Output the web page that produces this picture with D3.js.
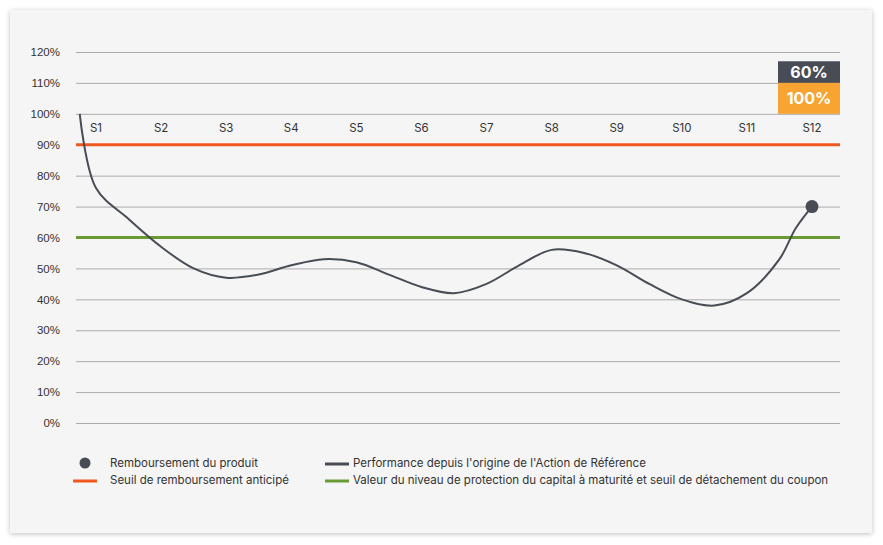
<!DOCTYPE html>
<html lang="fr">
<head>
<meta charset="UTF-8">
<script src="https://cdn.jsdelivr.net/npm/d3@7"></script>
<style>
  body { margin: 0; background: #fff; font-family: Inter, "Noto Sans", sans-serif; }
  .card { position: absolute; left: 10px; top: 10px; width: 862px; height: 523px; background: #f5f5f5; box-shadow: 0 1px 5px rgba(0,0,0,.25); }
  svg { position: absolute; left: 0; top: 0; }
  .tick text { font-size: 11.5px; fill: #333; }
</style>
</head>
<body>
<div class="card"></div>
<script>
const yTicks = [0, 10, 20, 30, 40, 50, 60, 70, 80, 90, 100, 110, 120];
const sessions = ["S1","S2","S3","S4","S5","S6","S7","S8","S9","S10","S11","S12"];
// performance path: position in sessions (1 = S1) and level in %
const perfT = [0.75, 1.0, 1.5, 2.0, 2.5, 3.0, 3.5, 4.0, 4.5, 5.0, 5.5, 6.0, 6.5, 7.0, 7.5, 8.0, 8.5, 9.0, 9.5, 10.0, 10.5, 11.0, 11.5, 11.75, 12.0];
const perfV = [100, 76, 66, 57, 50, 47, 48, 51, 53, 52, 48, 44, 42, 45, 51, 56, 55, 51, 45, 40, 38, 42, 53, 63, 70];
const redeemT = 12, redeemV = 70;
const earlyThreshold = 90, protectionLevel = 60;
const boxTop = "60%", boxBottom = "100%";
const legendItems = [
  {label: "Remboursement du produit", type: "dot", color: "#474c55"},
  {label: "Performance depuis l'origine de l'Action de Référence", type: "line", color: "#474c55"},
  {label: "Seuil de remboursement anticipé", type: "line", color: "#f0581f"},
  {label: "Valeur du niveau de protection du capital à maturité et seuil de détachement du coupon", type: "line", color: "#6a9a34"}
];

const W = 883, H = 545;
const pLeft = 76, pRight = 840, pTop = 52, pBottom = 423;
const svg = d3.select("body").append("svg").attr("width", W).attr("height", H);

const y = d3.scaleLinear().domain([0, 120]).range([pBottom, pTop]);
const x = d3.scaleLinear().domain([1, 12]).range([96, 812]);

const yAxis = d3.axisLeft(y).tickValues(yTicks).tickFormat(d => d + "%").tickSize(-(pRight - pLeft)).tickPadding(16);
const gy = svg.append("g").attr("transform", `translate(${pLeft},0)`).call(yAxis);
gy.select(".domain").remove();
gy.selectAll(".tick line").attr("stroke", "#999").attr("stroke-width", 0.8);

// session labels
svg.append("g").selectAll("text").data(sessions).join("text")
  .attr("x", (d, i) => x(i + 1)).attr("y", 132).attr("text-anchor", "middle")
  .attr("font-size", 11.5).attr("fill", "#333").text(d => d);

// thresholds
[[earlyThreshold, "#f0581f"], [protectionLevel, "#6a9a34"]].forEach(([v, c]) => {
  svg.append("line").attr("x1", pLeft).attr("x2", pRight).attr("y1", y(v)).attr("y2", y(v))
    .attr("stroke", c).attr("stroke-width", 3);
});

// box
const bx = 778, bw = pRight - bx;
svg.append("rect").attr("x", bx).attr("y", y(117)).attr("width", bw).attr("height", y(110) - y(117)).attr("fill", "#474c55");
svg.append("rect").attr("x", bx).attr("y", y(110)).attr("width", bw).attr("height", y(100) - y(110)).attr("fill", "#f7a433");
svg.append("text").attr("x", bx + bw / 2).attr("y", y(113.5) + 6).attr("text-anchor", "middle")
  .attr("fill", "#fff").attr("font-size", 16).attr("font-weight", 700).text(boxTop);
svg.append("text").attr("x", bx + bw / 2).attr("y", y(105) + 6).attr("text-anchor", "middle")
  .attr("fill", "#fff").attr("font-size", 16).attr("font-weight", 700).text(boxBottom);

// performance line
const line = d3.line().x(d => x(d[0])).y(d => y(d[1])).curve(d3.curveCatmullRom.alpha(0.5));
svg.append("path").datum(d3.zip(perfT, perfV)).attr("d", line)
  .attr("fill", "none").attr("stroke", "#474c55").attr("stroke-width", 2);
svg.append("circle").attr("cx", x(redeemT)).attr("cy", y(redeemV)).attr("r", 6.5).attr("fill", "#474c55");

// legend
const lg = svg.append("g");
legendItems.forEach((it, i) => {
  const cx = i % 2 === 0 ? 85 : 337, cy = 463 + Math.floor(i / 2) * 17;
  if (it.type === "dot") lg.append("circle").attr("cx", cx).attr("cy", cy).attr("r", 5.5).attr("fill", it.color);
  else lg.append("line").attr("x1", cx - 12).attr("x2", cx + 12).attr("y1", cy + 1).attr("y2", cy + 1).attr("stroke", it.color).attr("stroke-width", 3);
  lg.append("text").attr("x", cx + (i % 2 === 0 ? 25 : 16)).attr("y", cy + 4).attr("font-size", 11.5).attr("fill", "#333").text(it.label);
});
</script>
</body>
</html>
